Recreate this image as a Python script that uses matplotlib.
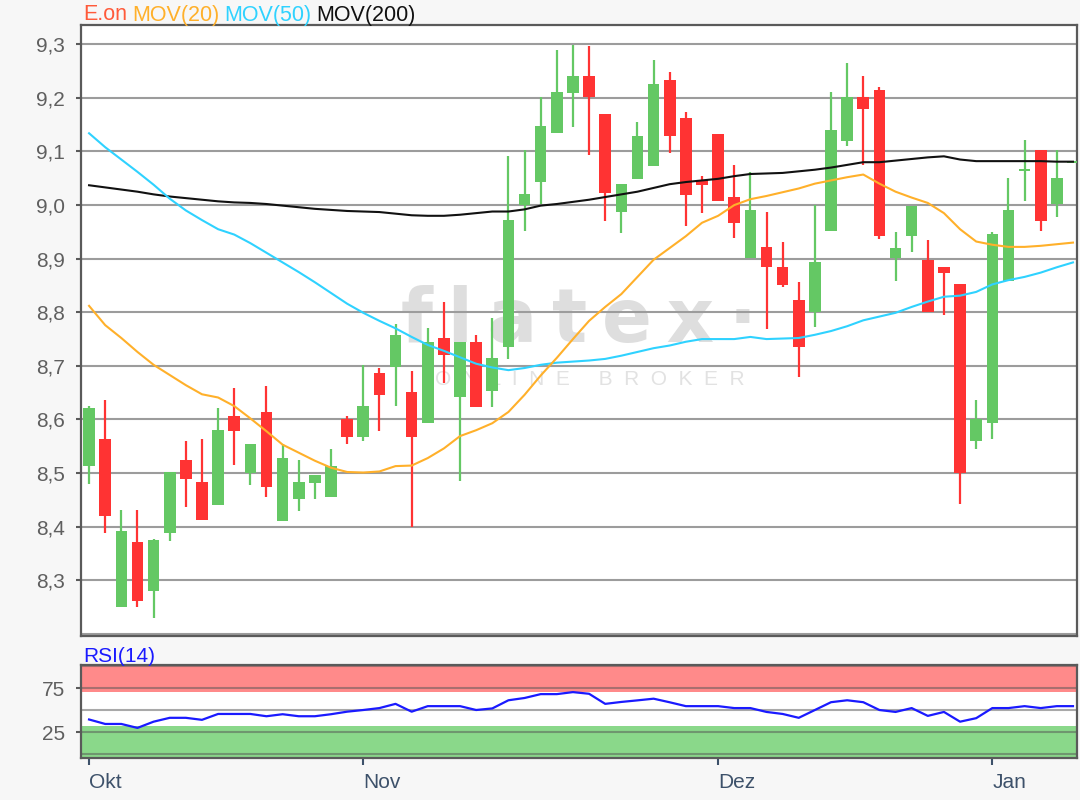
import numpy as np
import matplotlib
matplotlib.use("Agg")
import matplotlib.pyplot as plt

plt.rcParams['font.family'] = ['Liberation Sans', 'DejaVu Sans']

# Tageskerzen E.on (Open / High / Low / Close)
opens = [8.513, 8.563, 8.251, 8.372, 8.280, 8.389, 8.525, 8.484, 8.440, 8.607,
         8.501, 8.614, 8.411, 8.451, 8.482, 8.455, 8.600, 8.568, 8.686, 8.698,
         8.652, 8.594, 8.752, 8.642, 8.744, 8.654, 8.735, 9.000, 9.044, 9.134,
         9.209, 9.241, 9.170, 8.988, 9.048, 9.072, 9.234, 9.162, 9.047, 9.132,
         9.016, 8.901, 8.922, 8.885, 8.823, 8.800, 8.952, 9.119, 9.202, 9.214,
         8.901, 8.943, 8.898, 8.885, 8.852, 8.560, 8.594, 8.859, 9.063, 9.102,
         9.002, 9.078]
highs = [8.625, 8.637, 8.432, 8.432, 8.377, 8.502, 8.559, 8.563, 8.622, 8.659,
         8.555, 8.663, 8.555, 8.524, 8.496, 8.544, 8.607, 8.702, 8.696, 8.779,
         8.690, 8.771, 8.820, 8.744, 8.757, 8.789, 9.091, 9.102, 9.202, 9.289,
         9.299, 9.297, 9.170, 9.040, 9.155, 9.271, 9.249, 9.173, 9.055, 9.132,
         9.074, 9.061, 8.987, 8.931, 8.856, 9.000, 9.211, 9.266, 9.241, 9.220,
         8.950, 8.999, 8.935, 8.885, 8.852, 8.637, 8.950, 9.050, 9.122, 9.102,
         9.102, 9.082]
lows = [8.479, 8.389, 8.251, 8.251, 8.229, 8.373, 8.437, 8.412, 8.440, 8.515,
        8.477, 8.455, 8.411, 8.429, 8.451, 8.455, 8.555, 8.560, 8.578, 8.626,
        8.400, 8.594, 8.668, 8.485, 8.624, 8.624, 8.713, 8.952, 9.002, 9.134,
        9.145, 9.093, 8.970, 8.948, 9.048, 9.072, 9.097, 8.961, 8.985, 9.008,
        8.939, 8.901, 8.769, 8.847, 8.680, 8.773, 8.952, 9.111, 9.074, 8.936,
        8.858, 8.913, 8.800, 8.795, 8.442, 8.545, 8.564, 8.859, 9.007, 8.952,
        8.977, 9.078]
closes = [8.622, 8.419, 8.391, 8.261, 8.376, 8.502, 8.489, 8.412, 8.581, 8.578,
          8.555, 8.474, 8.529, 8.484, 8.496, 8.514, 8.568, 8.626, 8.645, 8.757,
          8.568, 8.744, 8.721, 8.744, 8.624, 8.714, 8.972, 9.020, 9.148, 9.211,
          9.241, 9.201, 9.022, 9.040, 9.129, 9.225, 9.128, 9.019, 9.038, 9.008,
          8.966, 8.991, 8.885, 8.851, 8.735, 8.894, 9.140, 9.202, 9.179, 8.943,
          8.920, 8.999, 8.800, 8.873, 8.500, 8.600, 8.946, 8.991, 9.066, 8.971,
          9.050, 9.082]

# gleitende Durchschnitte
mov20 = [8.812, 8.776, 8.752, 8.726, 8.702, 8.683, 8.664, 8.647, 8.641, 8.625,
         8.602, 8.578, 8.553, 8.538, 8.523, 8.510, 8.502, 8.501, 8.503, 8.513,
         8.514, 8.528, 8.546, 8.569, 8.580, 8.593, 8.614, 8.646, 8.682, 8.715,
         8.750, 8.784, 8.810, 8.834, 8.866, 8.898, 8.920, 8.942, 8.967, 8.980,
         9.000, 9.011, 9.017, 9.024, 9.031, 9.040, 9.046, 9.052, 9.057, 9.040,
         9.025, 9.014, 9.004, 8.985, 8.955, 8.932, 8.926, 8.922, 8.922, 8.924,
         8.927, 8.930]
mov50 = [9.134, 9.108, 9.085, 9.062, 9.038, 9.012, 8.990, 8.972, 8.955, 8.945,
         8.929, 8.911, 8.893, 8.875, 8.856, 8.836, 8.816, 8.799, 8.784, 8.770,
         8.754, 8.739, 8.728, 8.716, 8.704, 8.697, 8.692, 8.696, 8.702, 8.706,
         8.708, 8.710, 8.713, 8.719, 8.726, 8.733, 8.738, 8.745, 8.750, 8.750,
         8.750, 8.754, 8.750, 8.751, 8.752, 8.758, 8.765, 8.774, 8.785, 8.792,
         8.799, 8.810, 8.820, 8.829, 8.831, 8.838, 8.852, 8.860, 8.866, 8.874,
         8.884, 8.893]
mov200 = [9.037, 9.033, 9.029, 9.025, 9.020, 9.016, 9.013, 9.010, 9.007, 9.005,
          9.004, 9.002, 8.999, 8.996, 8.993, 8.991, 8.989, 8.988, 8.987, 8.984,
          8.981, 8.980, 8.980, 8.982, 8.985, 8.988, 8.988, 8.992, 8.999, 9.002,
          9.006, 9.010, 9.015, 9.020, 9.025, 9.032, 9.039, 9.043, 9.046, 9.049,
          9.054, 9.058, 9.059, 9.060, 9.063, 9.066, 9.070, 9.075, 9.080, 9.080,
          9.083, 9.086, 9.089, 9.091, 9.085, 9.082, 9.082, 9.082, 9.082, 9.082,
          9.081, 9.081]

rsi14 = [39.4, 34.3, 34.3, 29.8, 36.9, 41.3, 41.3, 39.0, 45.7, 45.7,
         45.7, 43.1, 45.4, 43.1, 43.1, 45.4, 48.3, 50.2, 52.4, 57.2,
         48.3, 54.6, 54.6, 54.6, 50.2, 52.0, 61.3, 63.9, 68.3, 68.3,
         70.6, 68.7, 57.2, 59.4, 61.2, 63.1, 59.0, 54.6, 54.6, 54.6,
         52.4, 52.4, 48.0, 45.7, 41.3, 50.2, 59.1, 61.3, 59.1, 50.2,
         48.0, 52.4, 43.5, 48.0, 36.9, 40.9, 52.4, 52.4, 54.6, 52.4,
         54.6, 54.6]

month_labels = ['Okt', 'Nov', 'Dez', 'Jan']
month_pos = [0, 17, 39, 56]

price_ticks = [8.3, 8.4, 8.5, 8.6, 8.7, 8.8, 8.9, 9.0, 9.1, 9.2, 9.3]
price_labels = ['8,3', '8,4', '8,5', '8,6', '8,7', '8,8', '8,9', '9,0', '9,1', '9,2', '9,3']
rsi_ticks = [25, 75]
rsi_labels = ['25', '75']

legend_labels = ['E.on', 'MOV(20)', 'MOV(50)', 'MOV(200)']
legend_colors = ['#ff5a3a', '#ffb02a', '#2fd2ff', '#111111']

GREEN = '#64c864'
RED = '#ff3333'
FRAME = '#5a5a5a'

fig = plt.figure(figsize=(10.8, 8), dpi=100, facecolor='#f7f7f7')
ax = fig.add_axes([81/1080, 1-636/800, 996/1080, 611/800])
ax2 = fig.add_axes([81/1080, 1-758/800, 996/1080, 93/800])

n = len(closes)
idx = np.arange(n)
o = np.array(opens); c = np.array(closes)
h = np.array(highs); l = np.array(lows)
cols = np.where(c >= o, GREEN, RED)

# Kerzen
ax.vlines(idx, l, h, colors=cols, linewidth=1.6, zorder=3)
ax.bar(idx, np.maximum(np.abs(c - o), 0.004), bottom=np.minimum(o, c),
       width=0.72, color=cols, zorder=4)

ax.plot(idx, mov200, color=legend_colors[3], lw=1.5, zorder=5)
ax.plot(idx, mov50, color=legend_colors[2], lw=1.5, zorder=5)
ax.plot(idx, mov20, color=legend_colors[1], lw=1.5, zorder=5)

# Wasserzeichen
ax.text(0.50, 0.481, 'f\u2009l\u2009a\u2009t\u2009e\u2009x\u2009·', transform=ax.transAxes,
        fontsize=53, family='DejaVu Sans', fontweight='bold', color='#dedede',
        ha='center', va='baseline', zorder=1)
ax.text(0.511, 0.411, 'O  N  L  I  N  E     B  R  O  K  E  R', transform=ax.transAxes,
        fontsize=15, color='#e2e2e2', ha='center', va='baseline', zorder=1)

ax.set_xlim(-0.5, 61.25)
ax.set_ylim(8.196, 9.336)
ax.set_yticks(price_ticks)
ax.set_yticklabels(price_labels)
ax.set_xticks([])
for v in [8.2] + price_ticks:
    ax.axhline(v, color='#9c9c9c', lw=1.5, zorder=2)
ax.tick_params(axis='y', length=3.6, width=1.5, color=FRAME, labelsize=15,
               labelcolor='#5f5f5f', pad=8)

# RSI
ax2.axhspan(70.5, 101.5, color='#ff8a8a', zorder=1, lw=0)
ax2.axhspan(-4.5, 32, color='#8ad88a', zorder=1, lw=0)
for v in [0, 25, 50, 75, 100]:
    ax2.axhline(v, color='#555555', alpha=0.5, lw=1.5, zorder=2)
ax2.plot(idx, rsi14, color='#1a1aff', lw=1.6, zorder=3)
ax2.set_xlim(-0.5, 61.25)
ax2.set_ylim(-4.5, 101.5)
ax2.set_yticks(rsi_ticks)
ax2.set_yticklabels(rsi_labels)
ax2.set_xticks(month_pos)
ax2.set_xticklabels(month_labels, ha='left')
ax2.tick_params(axis='y', length=3.6, width=1.5, color=FRAME, labelsize=15,
                labelcolor='#5f5f5f', pad=8)
ax2.tick_params(axis='x', length=5, width=1.5, color='#3d516a', labelsize=15,
                labelcolor='#3d516a', pad=6)

for a in (ax, ax2):
    a.set_facecolor('white')
    for sp in a.spines.values():
        sp.set_color(FRAME)
        sp.set_linewidth(1.6)

# Titelzeilen
renderer = fig.canvas.get_renderer()
x = 83 / 1080
for txt, col in zip(legend_labels, legend_colors):
    t = fig.text(x, 1 - 20.5 / 800, txt, color=col, fontsize=15.5, va='baseline')
    bb = t.get_window_extent(renderer)
    x = (bb.x1 + 5) / fig.bbox.width
fig.text(83 / 1080, 1 - 661.5 / 800, 'RSI(14)', color='#1a1aff', fontsize=15, va='baseline')

fig.savefig('out.png', dpi=100, facecolor=fig.get_facecolor())
